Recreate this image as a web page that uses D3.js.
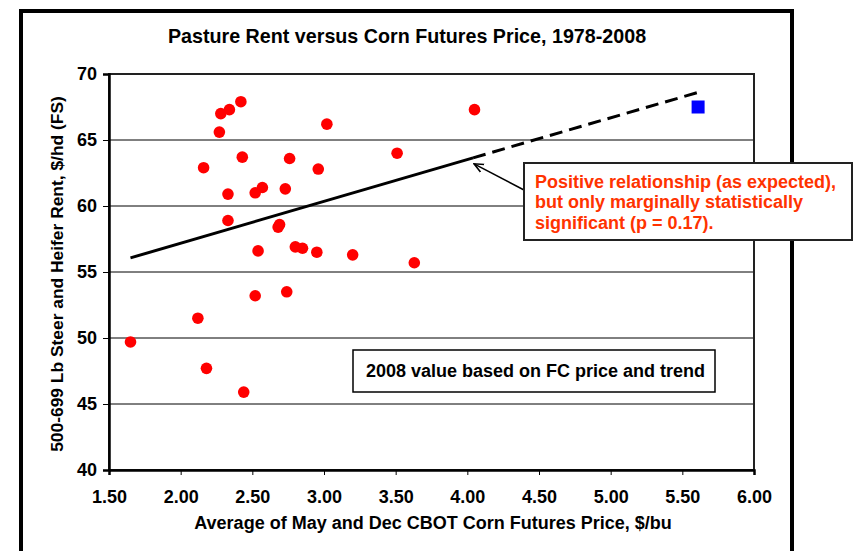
<!DOCTYPE html>
<html>
<head>
<meta charset="utf-8">
<script src="https://cdn.jsdelivr.net/npm/d3@7"></script>
<style>
  body { margin: 0; background: #fff; }
  svg text { font-family: "Liberation Sans", Arial, sans-serif; font-weight: bold; }
</style>
</head>
<body>
<div id="chart"></div>
<script>
// observed 1978-2007: corn futures price ($/bu) and pasture rent ($/hd)
const cornPrice = [1.65, 2.12, 2.18, 2.44, 2.16, 2.27, 2.28, 2.34, 2.42, 2.43,
                   2.33, 2.33, 2.52, 2.57, 2.73, 2.76, 2.96, 3.02, 2.69, 2.68,
                   2.54, 2.80, 2.85, 2.95, 3.20, 2.52, 2.74, 3.51, 4.05, 3.63];
const pastureRent = [49.7, 51.5, 47.7, 45.9, 62.9, 65.6, 67.0, 67.3, 67.9, 63.7,
                     60.9, 58.9, 61.0, 61.4, 61.3, 63.6, 62.8, 66.2, 58.6, 58.4,
                     56.6, 56.9, 56.8, 56.5, 56.3, 53.2, 53.5, 64.0, 67.3, 55.7];

// 2008 projected value
const projPrice = [5.61];
const projRent = [67.5];

// fitted trend: solid over observed range, dashed out to 2008 price
const trendSolidX = [1.65, 4.04];
const trendSolidY = [56.07, 63.65];
const trendDashX = [4.04, 5.61];
const trendDashY = [63.65, 68.61];

const xTicks = [1.5, 2.0, 2.5, 3.0, 3.5, 4.0, 4.5, 5.0, 5.5, 6.0];
const yTicks = [40, 45, 50, 55, 60, 65, 70];

const titleText = "Pasture Rent versus Corn Futures Price, 1978-2008";
const xLabel = "Average of May and Dec CBOT Corn Futures Price, $/bu";
const yLabel = "500-699 Lb Steer and Heifer Rent, $/hd (FS)";
const noteLines = ["Positive relationship (as expected),",
                   "but only marginally statistically",
                   "significant (p = 0.17)."];
const boxNote = "2008 value based on FC price and trend";

const width = 854, height = 551;
const margin = {top: 74, right: 100, bottom: 81, left: 109};

const svg = d3.select("#chart").append("svg")
    .attr("width", width)
    .attr("height", height);

// outer frame
svg.append("rect")
    .attr("x", 21).attr("y", 11)
    .attr("width", 771).attr("height", 570)
    .attr("fill", "#fff")
    .attr("stroke", "#000")
    .attr("stroke-width", 4);

const x = d3.scaleLinear().domain([1.5, 6.0]).range([margin.left, width - margin.right]);
const y = d3.scaleLinear().domain([40, 70]).range([height - margin.bottom, margin.top]);

// gridlines
svg.append("g").selectAll("line")
    .data(yTicks.slice(1, -1))
    .join("line")
    .attr("x1", x(1.5)).attr("x2", x(6.0))
    .attr("y1", d => y(d)).attr("y2", d => y(d))
    .attr("stroke", "#000")
    .attr("stroke-width", 1);

// plot border
svg.append("rect")
    .attr("x", x(1.5)).attr("y", y(70))
    .attr("width", x(6.0) - x(1.5)).attr("height", y(40) - y(70))
    .attr("fill", "none")
    .attr("stroke", "#222")
    .attr("stroke-width", 2);

// axes
const xAxis = svg.append("g")
    .attr("transform", `translate(0,${y(40)})`)
    .call(d3.axisBottom(x).tickValues(xTicks).tickSize(5).tickPadding(15).tickFormat(d3.format(".2f")));
const yAxis = svg.append("g")
    .attr("transform", `translate(${x(1.5)},0)`)
    .call(d3.axisLeft(y).tickValues(yTicks).tickSize(6).tickPadding(6));

[xAxis, yAxis].forEach(a => {
    a.select(".domain").attr("stroke", "#000").attr("stroke-width", 2.5);
    a.selectAll(".tick line").attr("stroke", "#000").attr("stroke-width", 1);
    a.selectAll(".tick text")
        .attr("fill", "#000")
        .style("font-size", "18px")
        .style("font-family", "'Liberation Sans', Arial, sans-serif")
        .style("font-weight", "bold");
});

// trend line
const line = d3.line().x(d => x(d[0])).y(d => y(d[1]));
svg.append("path")
    .datum(d3.zip(trendSolidX, trendSolidY))
    .attr("d", line)
    .attr("fill", "none")
    .attr("stroke", "#000")
    .attr("stroke-width", 3);
svg.append("path")
    .datum(d3.zip(trendDashX, trendDashY))
    .attr("d", line)
    .attr("fill", "none")
    .attr("stroke", "#000")
    .attr("stroke-width", 3)
    .attr("stroke-dasharray", "13,7");

// observed points
svg.append("g").selectAll("circle")
    .data(d3.zip(cornPrice, pastureRent))
    .join("circle")
    .attr("cx", d => x(d[0]))
    .attr("cy", d => y(d[1]))
    .attr("r", 5.8)
    .attr("fill", "#ff0000");

// 2008 point
svg.append("g").selectAll("rect")
    .data(d3.zip(projPrice, projRent))
    .join("rect")
    .attr("x", d => x(d[0]) - 6.5)
    .attr("y", d => y(d[1]) - 6.5)
    .attr("width", 13).attr("height", 13)
    .attr("fill", "#0000ff");

// title and axis labels
svg.append("text")
    .attr("x", 407).attr("y", 43)
    .attr("text-anchor", "middle")
    .style("font-size", "19.7px")
    .text(titleText);

svg.append("text")
    .attr("x", 433).attr("y", 529)
    .attr("text-anchor", "middle")
    .style("font-size", "18px")
    .text(xLabel);

svg.append("text")
    .attr("transform", `translate(63,274) rotate(-90)`)
    .attr("text-anchor", "middle")
    .style("font-size", "17.4px")
    .text(yLabel);

// small note box
svg.append("rect")
    .attr("x", 353).attr("y", 350)
    .attr("width", 362).attr("height", 42)
    .attr("fill", "#fff")
    .attr("stroke", "#000")
    .attr("stroke-width", 1.5);
svg.append("text")
    .attr("x", 366).attr("y", 377)
    .style("font-size", "18px")
    .text(boxNote);

// arrow to the trend line end
svg.append("defs").append("marker")
    .attr("id", "arrow")
    .attr("viewBox", "0 0 10 10")
    .attr("refX", 9).attr("refY", 5)
    .attr("markerWidth", 7).attr("markerHeight", 7)
    .attr("orient", "auto")
    .append("path")
    .attr("d", "M0,1 L9,5 L0,9")
    .attr("fill", "none")
    .attr("stroke", "#000")
    .attr("stroke-width", 1.5);

svg.append("line")
    .attr("x1", 524).attr("y1", 190)
    .attr("x2", x(4.04) + 1).attr("y2", y(63.65) + 6)
    .attr("stroke", "#000")
    .attr("stroke-width", 1.5)
    .attr("marker-end", "url(#arrow)");

// annotation box
svg.append("rect")
    .attr("x", 524).attr("y", 163)
    .attr("width", 328).attr("height", 77)
    .attr("fill", "#fff")
    .attr("stroke", "#222")
    .attr("stroke-width", 2);
svg.append("text")
    .attr("x", 535).attr("y", 188)
    .attr("fill", "#ff3300")
    .style("font-size", "18px")
    .selectAll("tspan")
    .data(noteLines)
    .join("tspan")
    .attr("x", 535)
    .attr("dy", (d, i) => i === 0 ? 0 : 20.3)
    .text(d => d);
</script>
</body>
</html>
